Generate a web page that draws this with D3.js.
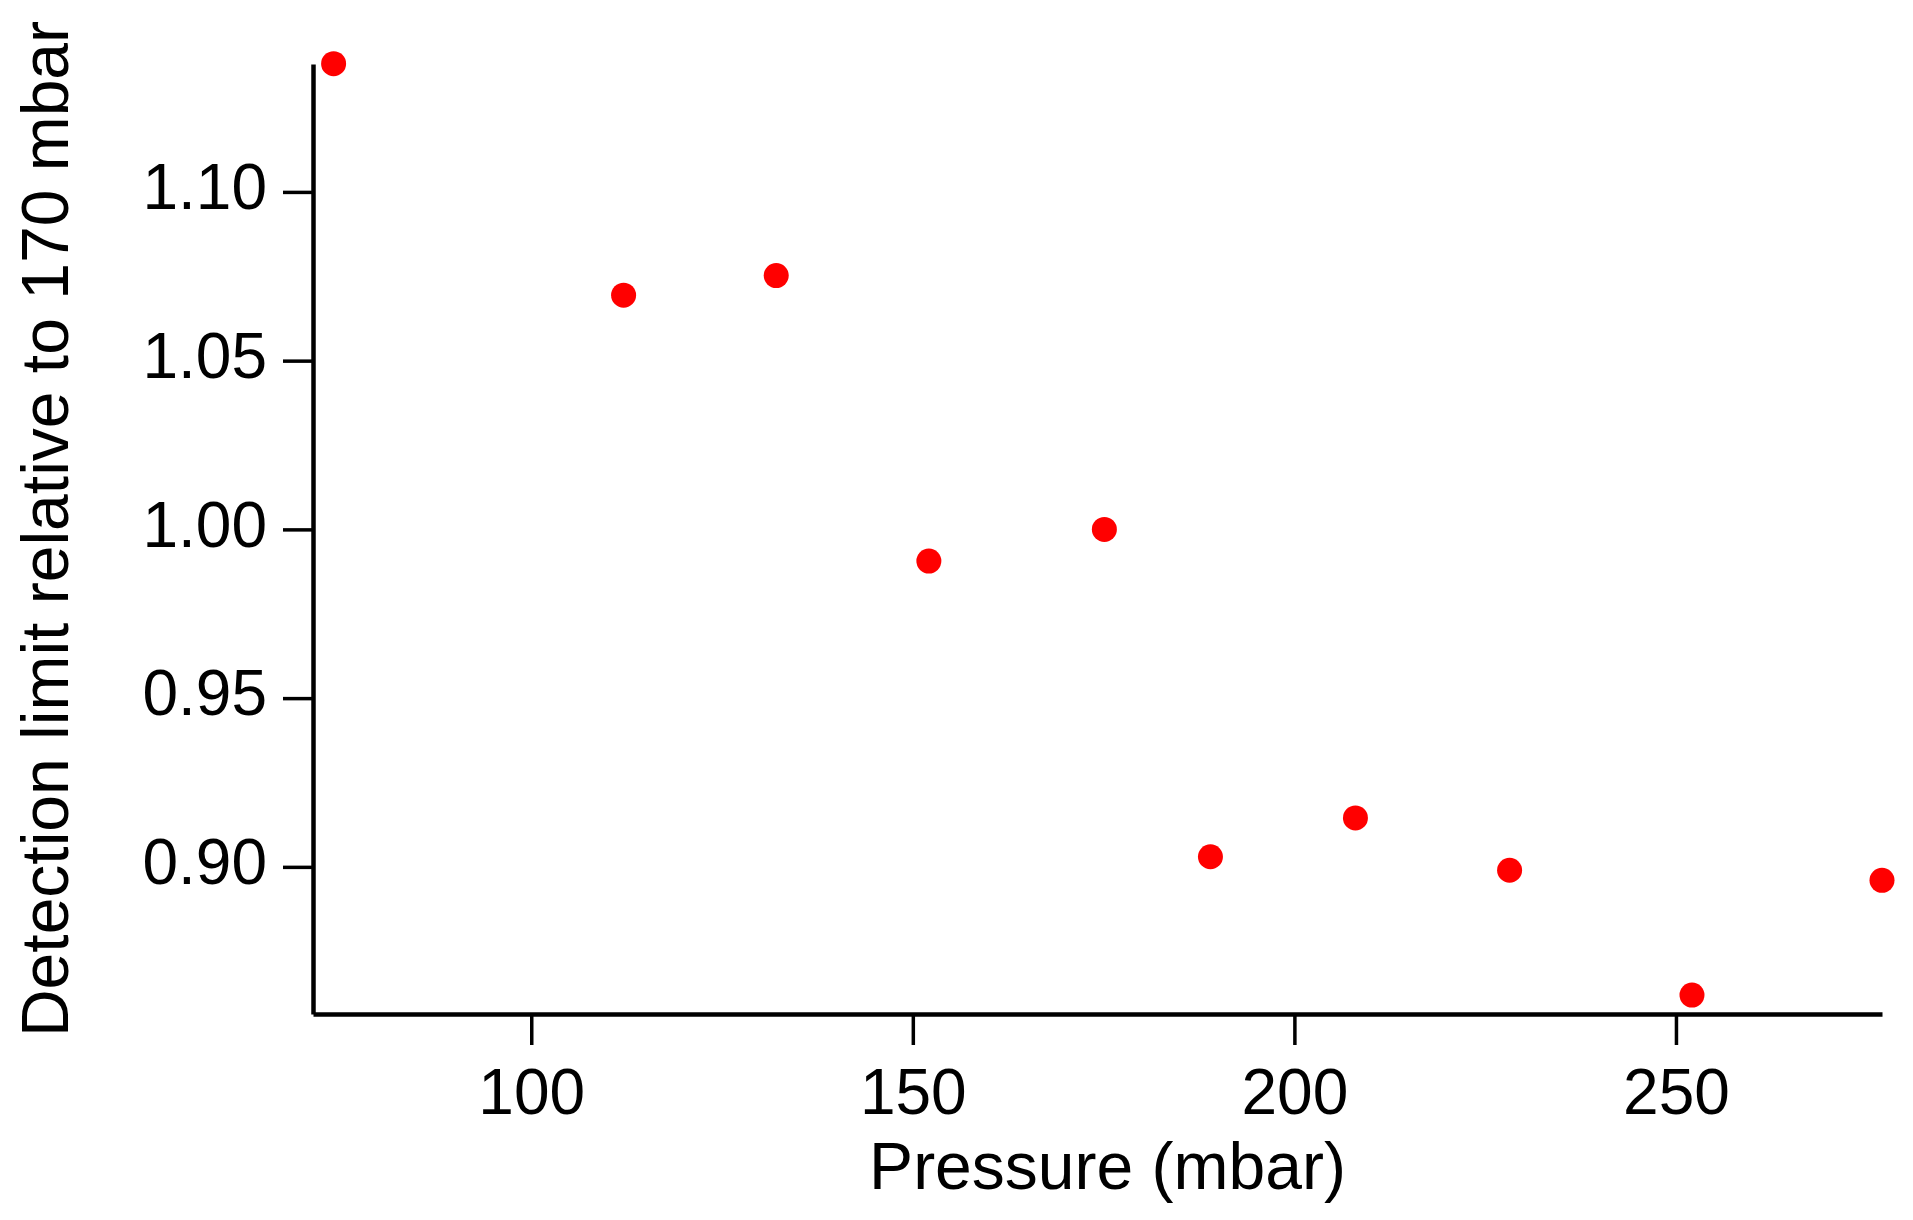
<!DOCTYPE html>
<html lang="en">
	<head>
		<meta charset="utf-8">
		<style type="text/css">
			html, body {
				width: 100%;
				height: 100%;
				padding: 0;
				margin: 0;
				background: #fff;
			}
			text {
				font-family: "Liberation Sans", Helvetica, Arial, sans-serif;
			}
			.axis text {
				font-size: 64px;
				fill: #000;
			}
			.axis .domain {
				stroke: #000;
				stroke-width: 4.5px;
			}
			.axis .tick line {
				stroke: #000;
				stroke-width: 3.5px;
			}
			.title {
				font-size: 66px;
				fill: #000;
			}
		</style>
	</head>
	<body>
	<svg></svg>
	<script src="https://cdn.jsdelivr.net/npm/d3@7"></script>
	<script>
		// pressure (mbar) and detection limit relative to 170 mbar
		const pressure = [74.1, 112.1, 132.1, 152.1, 175.1, 189.0, 208.0, 228.2, 252.1, 277.0]
		const relLimit = [1.138, 1.0694, 1.0752, 0.9906, 1.000, 0.903, 0.9145, 0.899, 0.862, 0.896]
		const xTicks = [100, 150, 200, 250]
		const yTicks = [0.90, 0.95, 1.00, 1.05, 1.10]

		const width = 1913
		const height = 1220
		const margin = {top: 64, right: 31, bottom: 206, left: 313}

		const svg = d3.select("svg")
			.attr("width", width)
			.attr("height", height)

		const x = d3.scaleLinear()
			.domain([71.4, 277.0])
			.range([margin.left, width - margin.right])

		const y = d3.scaleLinear()
			.domain([0.8564, 1.1379])
			.range([height - margin.bottom, margin.top])

		svg.append("g")
			.attr("class", "axis x")
			.attr("transform", `translate(0, ${height - margin.bottom})`)
			.call(d3.axisBottom(x)
				.tickValues(xTicks)
				.tickFormat(d3.format("d"))
				.tickSize(31)
				.tickSizeOuter(0)
				.tickPadding(24))

		svg.append("g")
			.attr("class", "axis y")
			.attr("transform", `translate(${margin.left}, 0)`)
			.call(d3.axisLeft(y)
				.tickValues(yTicks)
				.tickFormat(d3.format(".2f"))
				.tickSize(30)
				.tickSizeOuter(0)
				.tickPadding(16))

		svg.selectAll(".axis.y .tick text").attr("dy", "0.26em")

		const data = pressure.map((p, i) => ({p: p, v: relLimit[i]}))

		svg.append("g")
			.selectAll("circle")
			.data(data)
			.enter().append("circle")
				.attr("cx", d => x(d.p))
				.attr("cy", d => y(d.v))
				.attr("r", 12.5)
				.style("fill", "#ff0000")

		svg.append("text")
			.attr("class", "title")
			.attr("x", (margin.left + width - margin.right) / 2 + 10)
			.attr("y", 1189)
			.attr("text-anchor", "middle")
			.text("Pressure (mbar)")

		svg.append("text")
			.attr("class", "title")
			.attr("transform", `translate(68, 529) rotate(-90)`)
			.attr("text-anchor", "middle")
			.text("Detection limit relative to 170 mbar")
	</script>
	</body>
</html>
